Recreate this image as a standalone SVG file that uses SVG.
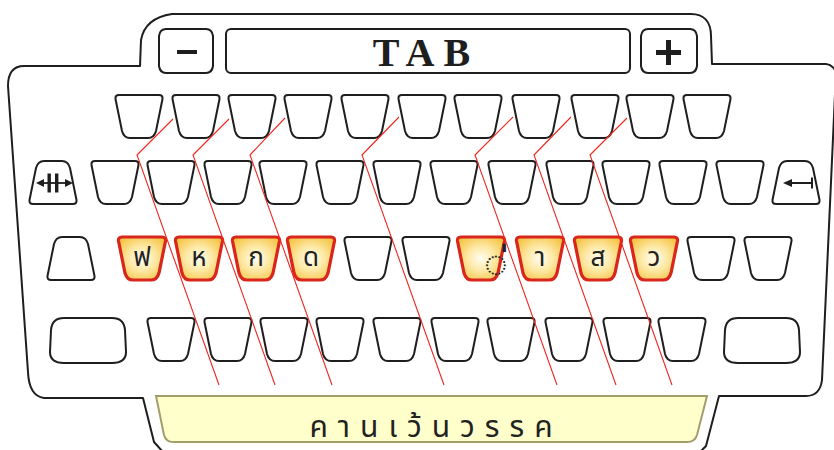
<svg xmlns="http://www.w3.org/2000/svg" xmlns:xlink="http://www.w3.org/1999/xlink" width="834" height="450" viewBox="0 0 834 450">
<style>
.o{fill:#fff;stroke:#1e1e1e;stroke-width:2;stroke-linejoin:round}
.key{fill:#fff;stroke:#1e1e1e;stroke-width:2}
.hl{fill:url(#g);stroke:#d9261c;stroke-width:3.2}
.red{fill:none;stroke:#f0261e;stroke-width:1.1}
.lt{font-family:"Noto Sans Thai","Noto Sans","DejaVu Sans",sans-serif;font-size:26px;fill:#222;text-anchor:middle}
.ic{fill:#1e1e1e}
</style>
<defs>
<radialGradient id="g" cx="0.5" cy="0.5" r="0.62">
<stop offset="0" stop-color="#fffdf0"/>
<stop offset="0.45" stop-color="#fde9a6"/>
<stop offset="1" stop-color="#f5c240"/>
</radialGradient>
<path id="k" d="M4,0 H44 Q48,0 47.5,4 L41,36 Q39,43 33,43 H15 Q9,43 7,36 L0.5,4 Q0,0 4,0 Z"/>
<path id="ki" d="M4,43 H44 Q48,43 47.5,39 L41,7 Q39,0 33,0 H15 Q9,0 7,7 L0.5,39 Q0,43 4,43 Z"/>
<path id="kw" d="M14,0 H62 Q74,0 75,12 L76,34 Q76,45 62,45 H14 Q0,45 0,34 L1,12 Q2,0 14,0 Z"/>
</defs>

<g id="frame">
<path class="o" d="M172,14 H691 C704,14 711,22 711,36 L712,64 H826 Q833,65 836,72 L822,380 Q820,396 806,396 H719 L706,446 L700,452 L163,452 L154,442 L143,398 H44 Q29,396 28,372 L8,86 Q8,66 24,66 H140 L141,40 Q145,18 172,14 Z"/>
</g>

<g id="topbar">
<g id="minus"><path class="o" d="M166,29 H206 Q212,29 213,36 V66 Q212,73 206,73 H166 Q160,73 159,66 V36 Q160,29 166,29 Z"/><rect class="ic" x="177" y="50" width="20" height="4"/></g>
<g id="tab"><rect class="o" x="226" y="29" width="404" height="44" rx="5"/><text x="426" y="66" font-family="Liberation Serif" font-weight="bold" font-size="40" letter-spacing="9" text-anchor="middle" fill="#1e1e1e">TAB</text></g>
<g id="plus"><path class="o" d="M648,29 H690 Q696,29 697,36 V66 Q696,73 690,73 H648 Q642,73 641,66 V36 Q642,29 648,29 Z"/><rect class="ic" x="656" y="50" width="25" height="5"/><rect class="ic" x="666" y="40" width="5" height="25"/></g>
</g>

<g id="row1">
<use href="#k" class="key" x="115" y="95"/>
<use href="#k" class="key" x="172" y="95"/>
<use href="#k" class="key" x="228" y="95"/>
<use href="#k" class="key" x="284" y="95"/>
<use href="#k" class="key" x="341" y="95"/>
<use href="#k" class="key" x="398" y="95"/>
<use href="#k" class="key" x="454" y="95"/>
<use href="#k" class="key" x="512" y="95"/>
<use href="#k" class="key" x="571" y="95"/>
<use href="#k" class="key" x="626" y="95"/>
<use href="#k" class="key" x="683" y="95"/>
</g>

<g id="row2">
<g id="key-shift-left"><use href="#ki" class="key" x="29" y="161"/>
<path d="M39,183 H70" stroke="#1e1e1e" stroke-width="1.8"/>
<path class="ic" d="M36,183 L44,179 V187 Z M73,183 L65,179 V187 Z"/>
<rect class="ic" x="47.5" y="173.5" width="3.4" height="19"/><rect class="ic" x="55" y="173.5" width="3.4" height="19"/></g>
<use href="#k" class="key" x="91" y="161"/>
<use href="#k" class="key" x="147" y="161"/>
<use href="#k" class="key" x="204" y="161"/>
<use href="#k" class="key" x="259" y="161"/>
<use href="#k" class="key" x="316" y="161"/>
<use href="#k" class="key" x="373" y="161"/>
<use href="#k" class="key" x="430" y="161"/>
<use href="#k" class="key" x="488" y="161"/>
<use href="#k" class="key" x="546" y="161"/>
<use href="#k" class="key" x="602" y="161"/>
<use href="#k" class="key" x="659" y="161"/>
<use href="#k" class="key" x="716" y="161"/>
<g id="key-back"><use href="#ki" class="key" x="772" y="161"/>
<path d="M790,183 H812 M812,177.5 V188.5" stroke="#1e1e1e" stroke-width="2" fill="none"/>
<path class="ic" d="M783,183 L792,179 V187 Z"/></g>
</g>

<g id="row3">
<use href="#ki" class="key" x="47" y="237"/>
<g id="k-fo"><use href="#k" class="hl" x="118" y="237"/><text class="lt" x="142" y="266">ฟ</text></g>
<g id="k-ho"><use href="#k" class="hl" x="175" y="237"/><text class="lt" x="199" y="266">ห</text></g>
<g id="k-ko"><use href="#k" class="hl" x="232" y="237"/><text class="lt" x="256" y="266">ก</text></g>
<g id="k-do"><use href="#k" class="hl" x="287" y="237"/><text class="lt" x="311" y="266">ด</text></g>
<use href="#k" class="key" x="344" y="237"/>
<use href="#k" class="key" x="402" y="237"/>
<g id="k-maiek"><use href="#k" class="hl" x="457" y="237"/><text class="lt" x="496" y="277" style="font-size:40px">◌่</text></g>
<g id="k-aa"><use href="#k" class="hl" x="516" y="237"/><text class="lt" x="540" y="266">า</text></g>
<g id="k-so"><use href="#k" class="hl" x="574" y="237"/><text class="lt" x="598" y="266">ส</text></g>
<g id="k-wo"><use href="#k" class="hl" x="630" y="237"/><text class="lt" x="654" y="266">ว</text></g>
<use href="#k" class="key" x="687" y="237"/>
<use href="#k" class="key" x="744" y="237"/>
</g>

<g id="row4">
<use href="#kw" class="key" x="50" y="318"/>
<use href="#k" class="key" x="147" y="318"/>
<use href="#k" class="key" x="204" y="318"/>
<use href="#k" class="key" x="260" y="318"/>
<use href="#k" class="key" x="316" y="318"/>
<use href="#k" class="key" x="373" y="318"/>
<use href="#k" class="key" x="431" y="318"/>
<use href="#k" class="key" x="487" y="318"/>
<use href="#k" class="key" x="545" y="318"/>
<use href="#k" class="key" x="603" y="318"/>
<use href="#k" class="key" x="658" y="318"/>
<use href="#kw" class="key" x="724" y="318"/>
</g>

<g id="connectors">
<polyline class="red" points="173,119 137,155 219,385"/>
<polyline class="red" points="229,119 193,155 275,385"/>
<polyline class="red" points="285,118 250,155 332,385"/>
<polyline class="red" points="399,117 362,155 444,385"/>
<polyline class="red" points="513,117 475,155 557,385"/>
<polyline class="red" points="571,117 534,155 616,385"/>
<polyline class="red" points="627,118 590,155 672,385"/>
</g>

<g id="spacebar">
<path d="M156,396 H707 L697,435 Q695,442 687,442 H173 Q166,442 164,435 Z" fill="#ffffcc" stroke="#a39d6c" stroke-width="2"/>
<text x="436" y="437" font-family="Noto Sans Thai,Noto Sans,DejaVu Sans,sans-serif" font-size="30" letter-spacing="10" text-anchor="middle" fill="#222">คานเว้นวรรค</text>
</g>
</svg>
